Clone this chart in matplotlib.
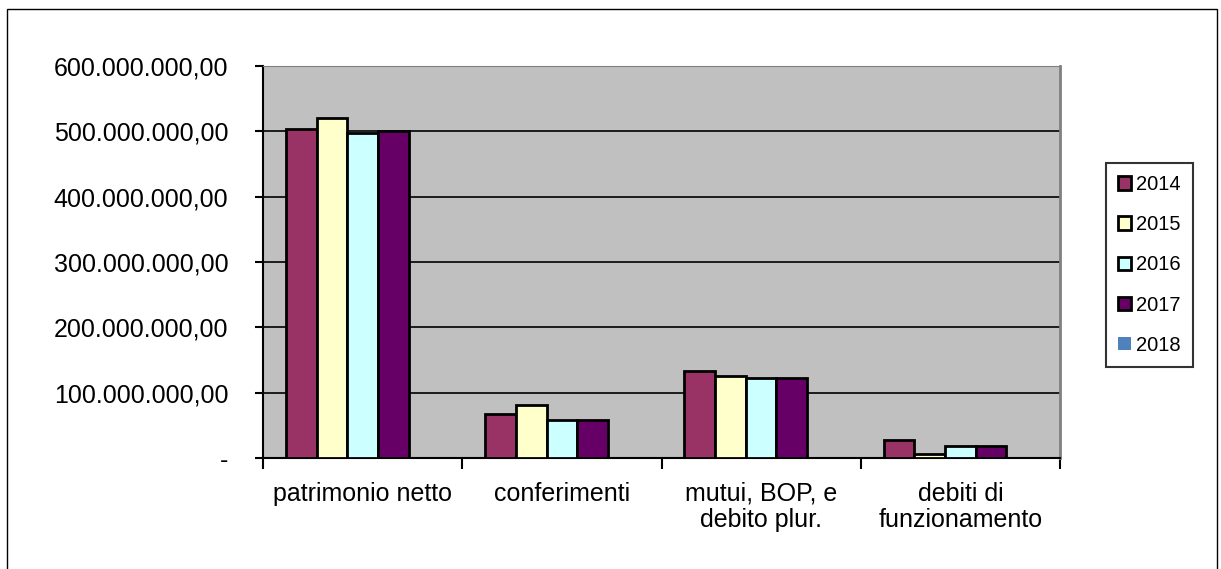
import numpy as np
import matplotlib.pyplot as plt
from matplotlib.patches import Rectangle

plt.rcParams['font.family'] = ['Liberation Sans', 'DejaVu Sans']

categories = ["patrimonio netto", "conferimenti", "mutui, BOP, e\ndebito plur.", "debiti di\nfunzionamento"]
years = ["2014", "2015", "2016", "2017", "2018"]
v2014 = [503.5e6, 67e6, 133e6, 28e6]
v2015 = [520e6, 81e6, 126e6, 6e6]
v2016 = [497e6, 58e6, 122e6, 18e6]
v2017 = [500e6, 58e6, 122e6, 18e6]
v2018 = [0, 0, 0, 0]
series = [v2014, v2015, v2016, v2017, v2018]
colors = ["#993366", "#FFFFCC", "#CCFFFF", "#660066", "#4F81BD"]
yticks = [0, 100e6, 200e6, 300e6, 400e6, 500e6, 600e6]
ylabels = ["-", "100.000.000,00", "200.000.000,00", "300.000.000,00",
           "400.000.000,00", "500.000.000,00", "600.000.000,00"]

W, H = 1221, 569
fig = plt.figure(figsize=(W / 100, H / 100), dpi=100)
fig.patches.append(Rectangle((7 / W, -0.01), (1217 - 7) / W, 1 - 9 / H + 0.01,
                             transform=fig.transFigure, fill=False,
                             edgecolor="black", linewidth=1))
ax = fig.add_axes([263 / W, 1 - 458 / H, (1060 - 263) / W, (458 - 66) / H])
ax.set_facecolor("#C0C0C0")

n = len(series)
gap = 1.5
w = 1 / (n + gap)
x = np.arange(len(categories))
for i, (vals, c) in enumerate(zip(series, colors)):
    pos = x + (gap / 2 + i + 0.5) * w
    lw = 0 if i == 4 else 2
    ax.bar(pos, vals, width=w, color=c, edgecolor="black", linewidth=lw,
           label=years[i], zorder=3)

ax.set_xlim(0, len(categories))
ax.set_ylim(0, 600e6)
ax.set_yticks(yticks)
ax.set_yticklabels(ylabels, fontsize=18)
ax.yaxis.grid(True, color="black", linewidth=1.2, zorder=1)
ax.set_xticks(np.arange(len(categories) + 1))
ax.set_xticklabels([])
ax.set_xticks(x + 0.5, minor=True)
ax.set_xticklabels(categories, minor=True, fontsize=18, linespacing=1.1)
ax.tick_params(axis="x", which="minor", length=0, pad=17)
ax.tick_params(axis="x", which="major", length=8, width=1.5, direction="out")
ax.tick_params(axis="y", length=6, width=1.5, pad=19)
ax.spines["left"].set_linewidth(1.5)
ax.spines["bottom"].set_linewidth(1.5)
ax.spines["top"].set_color("#808080")
ax.spines["right"].set_color("#808080")
ax.spines["right"].set_linewidth(2)

leg = fig.legend(loc="upper left", bbox_to_anchor=(1106 / W, 1 - 163 / H),
                 fontsize=14.5, frameon=True, fancybox=False, edgecolor="black",
                 handlelength=0.65, handleheight=0.65, handletextpad=0.25,
                 labelspacing=1.05, borderpad=0.6, borderaxespad=0)
leg.get_frame().set_linewidth(1.5)

fig.savefig("out.png", dpi=100)
